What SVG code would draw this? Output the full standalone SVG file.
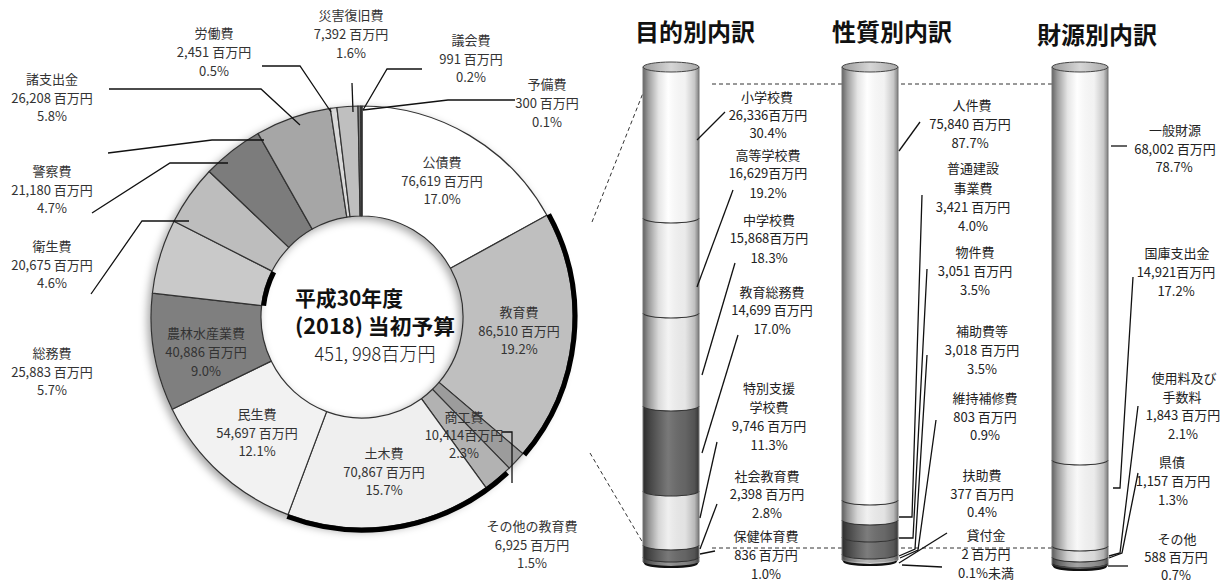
<svg xmlns="http://www.w3.org/2000/svg" width="1228" height="584" viewBox="0 0 1228 584">
<defs>
<style>
.t{font-family:"Noto Sans CJK JP","Noto Sans",sans-serif;font-size:13px;fill:#222;text-anchor:middle}
.d{font-family:"Noto Sans CJK JP","Noto Sans",sans-serif;font-size:13px;fill:#333;text-anchor:middle}
.h{font-family:"Noto Sans CJK JP","Noto Sans",sans-serif;font-size:24px;font-weight:bold;fill:#111}
.seg{stroke:#333;stroke-width:1.2;stroke-linejoin:round}
.ld{fill:none;stroke:#111;stroke-width:1.3}
.dash{fill:none;stroke:#333;stroke-width:1;stroke-dasharray:4 3}
.thick{fill:none;stroke:#000;stroke-width:5}
.bd{fill:none;stroke:#333;stroke-width:1.1}
.side{fill:none;stroke:#777;stroke-width:1}
.cap{fill:url(#capg);stroke:#444;stroke-width:1}
</style>
<linearGradient id="shade" x1="0" y1="0" x2="1" y2="0">
<stop offset="0" stop-color="#000" stop-opacity="0.6"/>
<stop offset="0.1" stop-color="#000" stop-opacity="0.38"/>
<stop offset="0.28" stop-color="#000" stop-opacity="0.1"/>
<stop offset="0.45" stop-color="#fff" stop-opacity="0.1"/>
<stop offset="0.75" stop-color="#000" stop-opacity="0.05"/>
<stop offset="0.92" stop-color="#000" stop-opacity="0.22"/>
<stop offset="1" stop-color="#000" stop-opacity="0.5"/>
</linearGradient>
<linearGradient id="capg" x1="0" y1="0" x2="1" y2="0">
<stop offset="0" stop-color="#9a9a9a"/>
<stop offset="0.5" stop-color="#d6d6d6"/>
<stop offset="1" stop-color="#a8a8a8"/>
</linearGradient>
<filter id="shadow" x="-10%" y="-10%" width="120%" height="120%">
<feDropShadow dx="-3" dy="3" stdDeviation="4" flood-color="#000" flood-opacity="0.35"/>
</filter>
</defs>
<rect width="1228" height="584" fill="#fff"/>

<!-- connectors -->
<g id="connectors">
<path class="dash" d="M592,222 L645,88"/>
<path class="dash" d="M590,453 L643,543"/>
<path class="dash" d="M712,84 L1052,84"/>
<path class="dash" d="M712,548 L1052,548"/>
</g>

<!-- donut -->
<g id="donut">
<g filter="url(#shadow)">
<g id="n-kousai"><path class="seg" fill="#ffffff" d="M362,106 A211,211 0 0 1 546.9,215.3 L450.5,268.3 A101,101 0 0 0 362,216 Z"/></g>
<g id="n-kyouiku"><path class="seg" fill="#bfbfbf" d="M546.9,215.3 A211,211 0 0 1 522.8,453.6 L439,382.4 A101,101 0 0 0 450.5,268.3 Z"/></g>
<g id="n-sonota-kyouiku"><path class="seg" fill="#9c9c9c" d="M522.8,453.6 A211,211 0 0 1 509.2,468.1 L432.5,389.3 A101,101 0 0 0 439,382.4 Z"/></g>
<g id="n-shoukou"><path class="seg" fill="#b2b2b2" d="M509.2,468.1 A211,211 0 0 1 486,487.7 L421.4,398.7 A101,101 0 0 0 432.5,389.3 Z"/></g>
<g id="n-doboku"><path class="seg" fill="#efefef" d="M486,487.7 A211,211 0 0 1 288,514.6 L326.6,411.6 A101,101 0 0 0 421.4,398.7 Z"/></g>
<g id="n-minsei"><path class="seg" fill="#f2f2f2" d="M288,514.6 A211,211 0 0 1 172.2,409.2 L271.2,361.1 A101,101 0 0 0 326.6,411.6 Z"/></g>
<g id="n-nourin"><path class="seg" fill="#7f7f7f" d="M172.2,409.2 A211,211 0 0 1 152.4,293.2 L261.6,305.6 A101,101 0 0 0 271.2,361.1 Z"/></g>
<g id="n-soumu"><path class="seg" fill="#c9c9c9" d="M152.4,293.2 A211,211 0 0 1 174,221.2 L272,271.1 A101,101 0 0 0 261.6,305.6 Z"/></g>
<g id="n-eisei"><path class="seg" fill="#bdbdbd" d="M174,221.2 A211,211 0 0 1 209.2,171.5 L288.8,247.4 A101,101 0 0 0 272,271.1 Z"/></g>
<g id="n-keisatsu"><path class="seg" fill="#7c7c7c" d="M209.2,171.5 A211,211 0 0 1 258,133.4 L312.2,229.1 A101,101 0 0 0 288.8,247.4 Z"/></g>
<g id="n-shoshishutsu"><path class="seg" fill="#a6a6a6" d="M258,133.4 A211,211 0 0 1 330.3,108.4 L346.8,217.1 A101,101 0 0 0 312.2,229.1 Z"/></g>
<g id="n-roudou"><path class="seg" fill="#d9d9d9" d="M330.3,108.4 A211,211 0 0 1 336.9,107.5 L350,216.7 A101,101 0 0 0 346.8,217.1 Z"/></g>
<g id="n-saigai"><path class="seg" fill="#bfbfbf" d="M336.9,107.5 A211,211 0 0 1 358,106 L360.1,216 A101,101 0 0 0 350,216.7 Z"/></g>
<g id="n-gikai"><path class="seg" fill="#7f7f7f" d="M358,106 A211,211 0 0 1 360.7,106 L361.4,216 A101,101 0 0 0 360.1,216 Z"/></g>
<g id="n-yobi"><path class="seg" fill="#333333" d="M360.7,106 A211,211 0 0 1 362,106 L362,216 A101,101 0 0 0 361.4,216 Z"/></g>
</g>
<path class="thick" d="M548.7,214.4 A213,213 0 0 1 524.3,454.9"/>
<path class="thick" d="M507.3,472.8 A213,213 0 0 1 287.3,516.5"/>
<path class="thick" d="M263.6,305.8 A99,99 0 0 1 273.8,272.1"/>
</g>

<!-- donut leader lines -->
<g id="donut-leaders">
<path class="ld" d="M109,89 L261,89 L300,125"/>
<path class="ld" d="M108,153 L212,140 L264,140"/>
<path class="ld" d="M92,213 L170,163 L228,163"/>
<path class="ld" d="M91,294 L142,221 L189,221"/>
<path class="ld" d="M262,66 L300,66 L331,112"/>
<path class="ld" d="M352,83 L353,112"/>
<path class="ld" d="M422,69 L387,69 L363,110"/>
<path class="ld" d="M515,100 L448,100 L363,110"/>
<path class="ld" d="M502,432 L512,432 L512,483"/>
</g>

<!-- donut labels -->
<g id="donut-labels">
<g id="l-roudou"><text class="d" x="214" y="38">労働費</text><text class="d" x="214" y="57">2,451 百万円</text><text class="d" x="214" y="76">0.5%</text></g>
<g id="l-saigai"><text class="d" x="351" y="20">災害復旧費</text><text class="d" x="351" y="39">7,392 百万円</text><text class="d" x="351" y="58">1.6%</text></g>
<g id="l-gikai"><text class="d" x="471" y="45">議会費</text><text class="d" x="471" y="64">991 百万円</text><text class="d" x="471" y="82">0.2%</text></g>
<g id="l-yobi"><text class="d" x="547" y="89">予備費</text><text class="d" x="547" y="108">300 百万円</text><text class="d" x="547" y="127">0.1%</text></g>
<g id="l-shoshishutsu"><text class="d" x="52" y="84">諸支出金</text><text class="d" x="52" y="103">26,208 百万円</text><text class="d" x="52" y="121">5.8%</text></g>
<g id="l-keisatsu"><text class="d" x="52" y="176">警察費</text><text class="d" x="52" y="195">21,180 百万円</text><text class="d" x="52" y="213">4.7%</text></g>
<g id="l-eisei"><text class="d" x="52" y="251">衛生費</text><text class="d" x="52" y="270">20,675 百万円</text><text class="d" x="52" y="288">4.6%</text></g>
<g id="l-soumu"><text class="d" x="52" y="358">総務費</text><text class="d" x="52" y="377">25,883 百万円</text><text class="d" x="52" y="395">5.7%</text></g>
<g id="l-kousai"><text class="d" x="442" y="167">公債費</text><text class="d" x="442" y="186">76,619 百万円</text><text class="d" x="442" y="204">17.0%</text></g>
<g id="l-kyouiku"><text class="d" x="519" y="317">教育費</text><text class="d" x="519" y="336">86,510 百万円</text><text class="d" x="519" y="354">19.2%</text></g>
<g id="l-nourin"><text class="d" x="206" y="338">農林水産業費</text><text class="d" x="206" y="357">40,886 百万円</text><text class="d" x="206" y="376">9.0%</text></g>
<g id="l-minsei"><text class="d" x="257" y="419">民生費</text><text class="d" x="257" y="438">54,697 百万円</text><text class="d" x="257" y="456">12.1%</text></g>
<g id="l-doboku"><text class="d" x="384" y="458">土木費</text><text class="d" x="384" y="477">70,867 百万円</text><text class="d" x="384" y="495">15.7%</text></g>
<g id="l-shoukou"><text class="d" x="464" y="422">商工費</text><text class="d" x="464" y="440">10,414百万円</text><text class="d" x="464" y="458">2.3%</text></g>
<g id="l-sonota-kyouiku"><text class="d" x="532" y="531">その他の教育費</text><text class="d" x="532" y="550">6,925 百万円</text><text class="d" x="532" y="568">1.5%</text></g>
<g id="center-title">
<text x="349" y="306" font-family="'Noto Sans CJK JP',sans-serif" font-size="21" font-weight="bold" fill="#111" text-anchor="middle" textLength="108" lengthAdjust="spacingAndGlyphs">平成30年度</text>
<text x="375" y="334" font-family="'Noto Sans CJK JP',sans-serif" font-size="21" font-weight="bold" fill="#111" text-anchor="middle" textLength="160" lengthAdjust="spacingAndGlyphs">(2018) 当初予算</text>
<text x="375" y="361" font-family="'Noto Sans CJK JP',sans-serif" font-size="19" font-weight="300" fill="#222" text-anchor="middle" textLength="121" lengthAdjust="spacingAndGlyphs">451, 998百万円</text>
</g>
</g>

<!-- headings -->
<text class="h" x="635" y="41">目的別内訳</text>
<text class="h" x="832" y="41">性質別内訳</text>
<text class="h" x="1037" y="44">財源別内訳</text>

<!-- column 1 -->
<g id="col-mokuteki">
<path fill="#ffffff" d="M643,67 L699,67 L699,218 A28,5 0 0 1 643,218 Z"/>
<path fill="#f7f7f7" d="M643,218 A28,5 0 0 0 699,218 L699,313 A28,5 0 0 1 643,313 Z"/>
<path fill="#f2f2f2" d="M643,313 A28,5 0 0 0 699,313 L699,406 A28,5 0 0 1 643,406 Z"/>
<path fill="#6a6a6a" d="M643,406 A28,5 0 0 0 699,406 L699,491 A28,5 0 0 1 643,491 Z"/>
<path fill="#eeeeee" d="M643,491 A28,5 0 0 0 699,491 L699,545 A28,5 0 0 1 643,545 Z"/>
<path fill="#6a6a6a" d="M643,545 A28,5 0 0 0 699,545 L699,557 A28,5 0 0 1 643,557 Z"/>
<path fill="#8a8a8a" d="M643,557 A28,5 0 0 0 699,557 L699,562 A28,5 0 0 1 643,562 Z"/>
<path fill="url(#shade)" d="M643,67 L699,67 L699,562 A28,5 0 0 1 643,562 Z"/>
<path class="bd" d="M643,218 A28,5 0 0 0 699,218"/>
<path class="bd" d="M643,313 A28,5 0 0 0 699,313"/>
<path class="bd" d="M643,406 A28,5 0 0 0 699,406"/>
<path class="bd" d="M643,491 A28,5 0 0 0 699,491"/>
<path class="bd" d="M643,545 A28,5 0 0 0 699,545"/>
<path class="bd" d="M643,557 A28,5 0 0 0 699,557"/>
<path fill="none" stroke="#111" stroke-width="2" d="M645,563 A26,4 0 0 0 697,563"/>
<path class="side" d="M643,67 L643,562 M699,67 L699,562"/>
<ellipse class="cap" cx="671" cy="67" rx="28" ry="5"/>
</g>
<g id="col1-leaders">
<path class="ld" d="M725,112 L697,140"/>
<path class="ld" d="M733,190 L697,287"/>
<path class="ld" d="M735,263 L702,375"/>
<path class="ld" d="M738,335 L702,453"/>
<path class="ld" d="M717,442 L700,518"/>
<path class="ld" d="M717,504 L700,549"/>
<path class="ld" d="M715,551 L700,554"/>
</g>
<g id="col1-labels">
<g id="c1-shou"><text class="t" x="767" y="102">小学校費</text><text class="t" x="768" y="120">26,336百万円</text><text class="t" x="768" y="138">30.4%</text></g>
<g id="c1-koutou"><text class="t" x="768" y="160">高等学校費</text><text class="t" x="768" y="178">16,629百万円</text><text class="t" x="768" y="198">19.2%</text></g>
<g id="c1-chuu"><text class="t" x="769" y="225">中学校費</text><text class="t" x="769" y="243">15,868百万円</text><text class="t" x="769" y="263">18.3%</text></g>
<g id="c1-soumu"><text class="t" x="772" y="297">教育総務費</text><text class="t" x="772" y="315">14,699 百万円</text><text class="t" x="772" y="334">17.0%</text></g>
<g id="c1-tokubetsu"><text class="t" x="769" y="393">特別支援</text><text class="t" x="769" y="412">学校費</text><text class="t" x="769" y="431">9,746 百万円</text><text class="t" x="769" y="450">11.3%</text></g>
<g id="c1-shakai"><text class="t" x="767" y="481">社会教育費</text><text class="t" x="767" y="499">2,398 百万円</text><text class="t" x="767" y="518">2.8%</text></g>
<g id="c1-hoken"><text class="t" x="766" y="541">保健体育費</text><text class="t" x="766" y="560">836 百万円</text><text class="t" x="766" y="579">1.0%</text></g>
</g>

<!-- column 2 -->
<g id="col-seishitsu">
<path fill="#ffffff" d="M842,67 L898,67 L898,500 A28,5 0 0 1 842,500 Z"/>
<path fill="#efefef" d="M842,500 A28,5 0 0 0 898,500 L898,520 A28,5 0 0 1 842,520 Z"/>
<path fill="#6e6e6e" d="M842,520 A28,5 0 0 0 898,520 L898,537 A28,5 0 0 1 842,537 Z"/>
<path fill="#6e6e6e" d="M842,537 A28,5 0 0 0 898,537 L898,554 A28,5 0 0 1 842,554 Z"/>
<path fill="#b0b0b0" d="M842,554 A28,5 0 0 0 898,554 L898,558 A28,5 0 0 1 842,558 Z"/>
<path fill="#cccccc" d="M842,558 A28,5 0 0 0 898,558 L898,560 A28,5 0 0 1 842,560 Z"/>
<path fill="url(#shade)" d="M842,67 L898,67 L898,560 A28,5 0 0 1 842,560 Z"/>
<path class="bd" d="M842,500 A28,5 0 0 0 898,500"/>
<path class="bd" d="M842,520 A28,5 0 0 0 898,520"/>
<path class="bd" d="M842,537 A28,5 0 0 0 898,537"/>
<path class="bd" d="M842,554 A28,5 0 0 0 898,554"/>
<path fill="none" stroke="#111" stroke-width="2" d="M844,561 A26,4 0 0 0 896,561"/>
<path class="side" d="M842,67 L842,560 M898,67 L898,560"/>
<ellipse class="cap" cx="870" cy="67" rx="28" ry="5"/>
</g>
<g id="col2-leaders">
<path class="ld" d="M920,122 L899,151"/>
<path class="ld" d="M922,195 L912,517 L899,517"/>
<path class="ld" d="M927,269 L913,538 L899,538"/>
<path class="ld" d="M927,355 L915,549 L899,556"/>
<path class="ld" d="M936,420 L918,550 L900,558"/>
<path class="ld" d="M947,533 L899,563"/>
<path class="ld" d="M942,567 L902,565"/>
</g>
<g id="col2-labels">
<g id="c2-jinken"><text class="t" x="972" y="110">人件費</text><text class="t" x="970" y="129">75,840 百万円</text><text class="t" x="970" y="148">87.7%</text></g>
<g id="c2-futsuu"><text class="t" x="973" y="173">普通建設</text><text class="t" x="973" y="193">事業費</text><text class="t" x="973" y="212">3,421 百万円</text><text class="t" x="973" y="231">4.0%</text></g>
<g id="c2-bukken"><text class="t" x="975" y="257">物件費</text><text class="t" x="975" y="276">3,051 百万円</text><text class="t" x="975" y="295">3.5%</text></g>
<g id="c2-hojo"><text class="t" x="982" y="336">補助費等</text><text class="t" x="982" y="355">3,018 百万円</text><text class="t" x="982" y="374">3.5%</text></g>
<g id="c2-iji"><text class="t" x="985" y="403">維持補修費</text><text class="t" x="985" y="422">803 百万円</text><text class="t" x="985" y="440">0.9%</text></g>
<g id="c2-fujo"><text class="t" x="982" y="480">扶助費</text><text class="t" x="982" y="499">377 百万円</text><text class="t" x="982" y="517">0.4%</text></g>
<g id="c2-kashitsuke"><text class="t" x="986" y="540">貸付金</text><text class="t" x="986" y="559">2 百万円</text><text class="t" x="986" y="578">0.1%未満</text></g>
</g>

<!-- column 3 -->
<g id="col-zaigen">
<path fill="#ffffff" d="M1052,67 L1108,67 L1108,460 A28,5 0 0 1 1052,460 Z"/>
<path fill="#f8f8f8" d="M1052,460 A28,5 0 0 0 1108,460 L1108,546 A28,5 0 0 1 1052,546 Z"/>
<path fill="#e4e4e4" d="M1052,546 A28,5 0 0 0 1108,546 L1108,557 A28,5 0 0 1 1052,557 Z"/>
<path fill="#9a9a9a" d="M1052,557 A28,5 0 0 0 1108,557 L1108,562 A28,5 0 0 1 1052,562 Z"/>
<path fill="#555555" d="M1052,562 A28,5 0 0 0 1108,562 L1108,565 A28,5 0 0 1 1052,565 Z"/>
<path fill="url(#shade)" d="M1052,67 L1108,67 L1108,565 A28,5 0 0 1 1052,565 Z"/>
<path class="bd" d="M1052,460 A28,5 0 0 0 1108,460"/>
<path class="bd" d="M1052,546 A28,5 0 0 0 1108,546"/>
<path class="bd" d="M1052,557 A28,5 0 0 0 1108,557"/>
<path fill="none" stroke="#111" stroke-width="2" d="M1054,566 A26,4 0 0 0 1106,566"/>
<path class="side" d="M1052,67 L1052,565 M1108,67 L1108,565"/>
<ellipse class="cap" cx="1080" cy="67" rx="28" ry="5"/>
</g>
<g id="col3-leaders">
<path class="ld" stroke-width="2.5" d="M1111,146 L1127,146"/>
<path class="ld" d="M1133,277 L1120,488 L1113,488"/>
<path class="ld" d="M1138,406 L1120,553 L1109,556"/>
<path class="ld" d="M1138,473 L1122,553 L1109,558"/>
<path class="ld" stroke-width="2.5" d="M1108,566 L1128,566"/>
</g>
<g id="col3-labels">
<g id="c3-ippan"><text class="t" x="1175" y="135">一般財源</text><text class="t" x="1175" y="154">68,002 百万円</text><text class="t" x="1174" y="172">78.7%</text></g>
<g id="c3-kokko"><text class="t" x="1177" y="258">国庫支出金</text><text class="t" x="1176" y="277">14,921百万円</text><text class="t" x="1176" y="296">17.2%</text></g>
<g id="c3-shiyou"><text class="t" x="1184" y="383">使用料及び</text><text class="t" x="1182" y="402">手数料</text><text class="t" x="1183" y="420">1,843 百万円</text><text class="t" x="1183" y="439">2.1%</text></g>
<g id="c3-kensai"><text class="t" x="1172" y="467">県債</text><text class="t" x="1173" y="486">1,157 百万円</text><text class="t" x="1173" y="505">1.3%</text></g>
<g id="c3-sonota"><text class="t" x="1177" y="544">その他</text><text class="t" x="1176" y="562">588 百万円</text><text class="t" x="1176" y="580">0.7%</text></g>
</g>
</svg>
